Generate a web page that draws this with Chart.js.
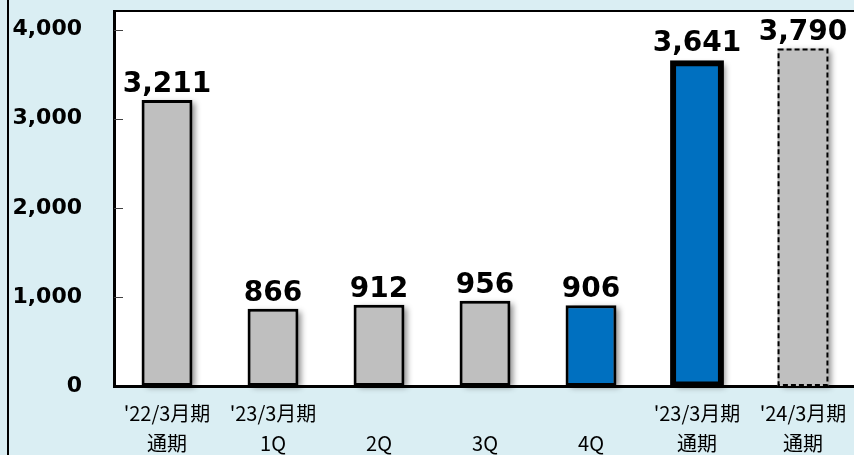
<!DOCTYPE html>
<html lang="ja">
<head>
    <meta charset="UTF-8">
    <title>売上推移</title>
    <script src="https://cdn.jsdelivr.net/npm/chart.js"></script>
    <style>
        html, body { margin: 0; padding: 0; overflow: hidden; background: #daeef3; }
        .wrap { width: 856px; height: 455px; }
    </style>
</head>
<body>
    <div class="wrap">
        <canvas id="salesChart" width="856" height="455"></canvas>
    </div>

    <script>
        // data
        var categories = [
            ["'22/3月期", "通期"],
            ["'23/3月期", "1Q"],
            ["", "2Q"],
            ["", "3Q"],
            ["", "4Q"],
            ["'23/3月期", "通期"],
            ["'24/3月期", "通期"]
        ];
        var values = [3211, 866, 912, 956, 906, 3641, 3790];
        var yTicks = [0, 1000, 2000, 3000, 4000];

        var GRAY = '#bfbfbf';
        var BLUE = '#0070c0';
        var fills = [GRAY, GRAY, GRAY, GRAY, BLUE, BLUE, GRAY];
        var borders = [3, 3, 3, 3, 3, 6, 0];
        var highlightIndex = 5;   // thick black outline
        var dashedIndex = 6;      // forecast, dashed outline

        // background, plot frame and small y tick marks
        var framePlugin = {
            id: 'frame',
            beforeDraw: function (chart) {
                var ctx = chart.ctx, a = chart.chartArea;
                ctx.save();
                ctx.fillStyle = '#daeef3';
                ctx.fillRect(0, 0, chart.width, chart.height);
                ctx.fillStyle = '#ffffff';
                ctx.fillRect(a.left, a.top, chart.width - a.left, a.bottom - a.top);
                ctx.fillStyle = '#000';
                ctx.fillRect(7, 0, 2, chart.height);
                ctx.fillRect(a.left - 1, a.top - 1, chart.width - a.left + 1, 2);
                ctx.restore();
            },
            afterDraw: function (chart) {
                var ctx = chart.ctx, a = chart.chartArea, y = chart.scales.y;
                ctx.save();
                ctx.strokeStyle = '#404040';
                ctx.lineWidth = 1;
                yTicks.forEach(function (v) {
                    if (v === 0) return;
                    var py = Math.round(y.getPixelForValue(v)) + 0.5;
                    ctx.beginPath();
                    ctx.moveTo(a.left, py);
                    ctx.lineTo(a.left + 9, py);
                    ctx.stroke();
                });
                ctx.restore();
            }
        };

        // soft shadow behind the bars (the bar itself is clipped, so draw it first)
        var shadowPlugin = {
            id: 'barShadow',
            beforeDatasetsDraw: function (chart) {
                var ctx = chart.ctx;
                ctx.save();
                ctx.shadowColor = 'rgba(0,0,0,0.45)';
                ctx.shadowBlur = 6;
                ctx.shadowOffsetX = 4;
                ctx.shadowOffsetY = 2;
                ctx.fillStyle = '#888';
                chart.getDatasetMeta(0).data.forEach(function (bar) {
                    ctx.fillRect(bar.x - bar.width / 2 + 1, bar.y + 1, bar.width - 2, bar.base - bar.y - 2);
                });
                ctx.restore();
            }
        };

        // dashed outline for the forecast bar + value labels
        var labelPlugin = {
            id: 'valueLabels',
            afterDatasetsDraw: function (chart) {
                var ctx = chart.ctx;
                var meta = chart.getDatasetMeta(0);
                ctx.save();
                var el = meta.data[dashedIndex];
                var left = el.x - el.width / 2, right = el.x + el.width / 2;
                ctx.strokeStyle = '#000';
                ctx.lineWidth = 2;
                ctx.setLineDash([5, 3]);
                ctx.strokeRect(left + 1, el.y + 1, right - left - 2, el.base - el.y - 2);
                ctx.setLineDash([]);

                ctx.fillStyle = '#000';
                ctx.font = 'bold 28px "DejaVu Sans"';
                ctx.textAlign = 'center';
                ctx.textBaseline = 'alphabetic';
                meta.data.forEach(function (bar, i) {
                    var lift = i === highlightIndex ? 11 : 8;
                    ctx.fillText(values[i].toLocaleString('en-US'), bar.x, bar.y - lift);
                });
                ctx.restore();
            }
        };

        var ctx = document.getElementById('salesChart').getContext('2d');
        var salesChart = new Chart(ctx, {
            type: 'bar',
            data: {
                labels: categories,
                datasets: [{
                    data: values,
                    backgroundColor: fills,
                    borderColor: '#000',
                    borderWidth: borders,
                    borderSkipped: false,
                    inflateAmount: function (c) { return c.dataIndex === highlightIndex ? 1.5 : 0; },
                    barPercentage: 0.48,
                    categoryPercentage: 1
                }]
            },
            options: {
                responsive: false,
                animation: false,
                layout: { autoPadding: false, padding: { top: 11, left: 0, right: 0, bottom: 0 } },
                plugins: {
                    legend: { display: false },
                    title: { display: false },
                    tooltip: { enabled: false }
                },
                scales: {
                    x: {
                        grid: { display: false, drawTicks: false },
                        border: { color: '#000', width: 3 },
                        ticks: {
                            color: '#000',
                            padding: 12,
                            maxRotation: 0,
                            autoSkip: false,
                            font: { family: '"Noto Sans CJK JP"', size: 20, lineHeight: 1.5 }
                        },
                        afterFit: function (s) {
                            s.height = 69;
                            s.paddingLeft = 0; s.paddingRight = 0;
                            s.paddingTop = 0; s.paddingBottom = 0;
                        }
                    },
                    y: {
                        min: 0,
                        max: 4210,
                        grid: { display: false, drawTicks: false },
                        border: { color: '#000', width: 3 },
                        afterBuildTicks: function (s) {
                            s.ticks = yTicks.map(function (v) { return { value: v }; });
                        },
                        ticks: {
                            color: '#000',
                            padding: 32,
                            font: { family: '"DejaVu Sans"', size: 22, weight: 'bold' },
                            callback: function (v) { return v.toLocaleString('en-US'); }
                        },
                        afterFit: function (s) {
                            s.width = 114;
                            s.paddingTop = 0; s.paddingBottom = 0;
                            s.paddingLeft = 0; s.paddingRight = 0;
                        }
                    }
                }
            },
            plugins: [framePlugin, shadowPlugin, labelPlugin]
        });
    </script>
</body>
</html>
